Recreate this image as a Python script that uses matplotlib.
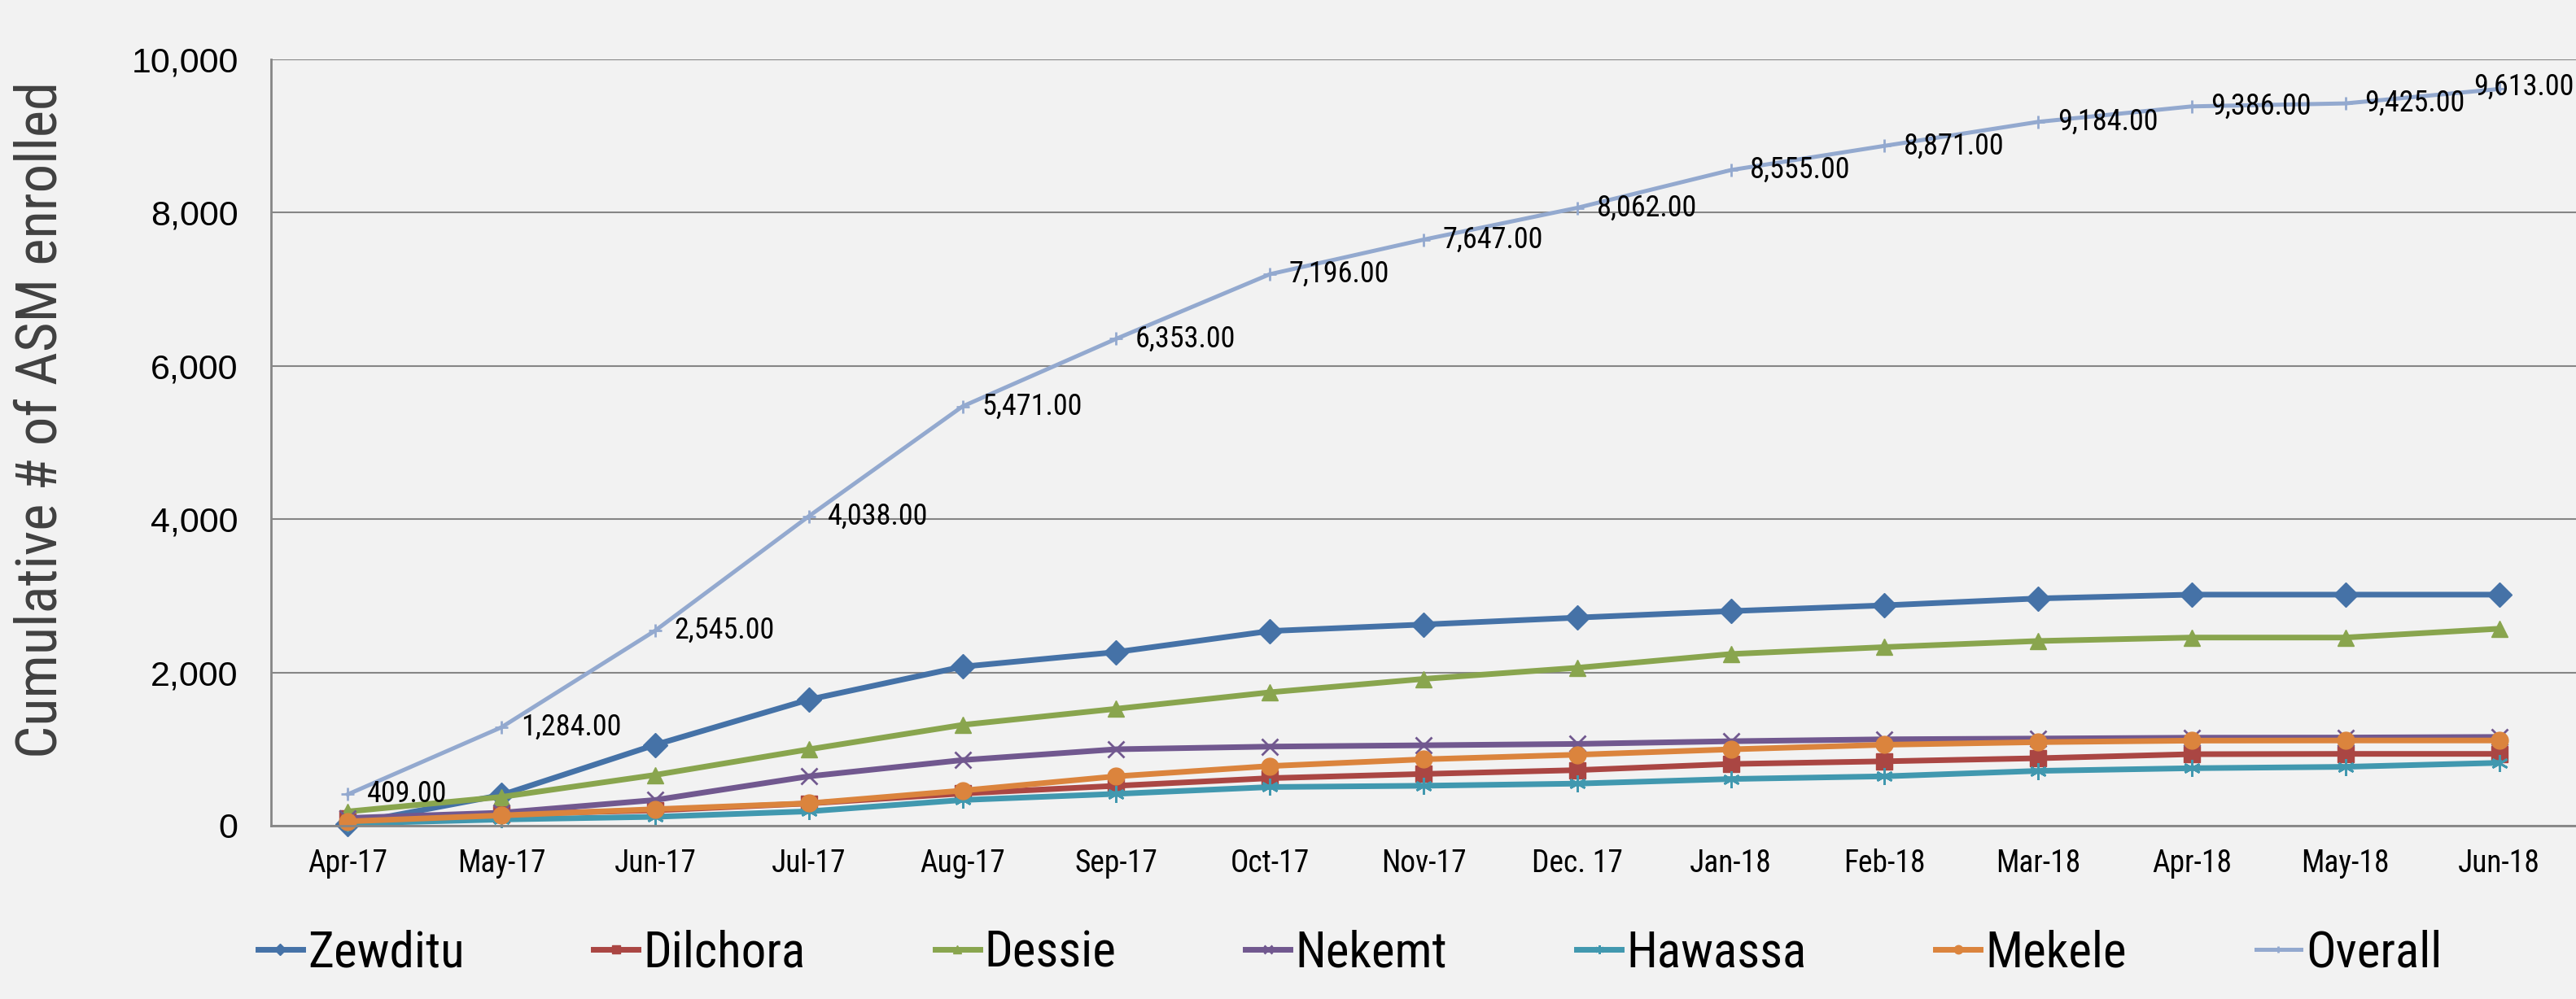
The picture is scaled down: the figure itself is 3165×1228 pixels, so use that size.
import matplotlib.pyplot as plt
from matplotlib import font_manager

months = ['Apr-17', 'May-17', 'Jun-17', 'Jul-17', 'Aug-17', 'Sep-17', 'Oct-17', 'Nov-17',
          'Dec. 17', 'Jan-18', 'Feb-18', 'Mar-18', 'Apr-18', 'May-18', 'Jun-18']

zewditu = [20, 400, 1055, 1645, 2075, 2265, 2540, 2625, 2715, 2800, 2875, 2965, 3015, 3015, 3015]
dilchora = [90, 150, 200, 290, 420, 520, 620, 675, 725, 805, 840, 880, 933, 937, 937]
dessie = [185, 375, 662, 996, 1315, 1525, 1740, 1915, 2060, 2240, 2330, 2410, 2455, 2455, 2570]
nekemt = [100, 169, 335, 644, 856, 997, 1032, 1049, 1067, 1102, 1127, 1137, 1148, 1150, 1158]
hawassa = [28, 81, 116, 187, 335, 415, 504, 521, 549, 609, 644, 715, 750, 768, 820]
mekele = [56, 134, 215, 292, 458, 644, 778, 866, 926, 996, 1056, 1090, 1110, 1112, 1112]
overall = [409, 1284, 2545, 4038, 5471, 6353, 7196, 7647, 8062, 8555, 8871, 9184, 9386, 9425, 9613]

names = ['Zewditu', 'Dilchora', 'Dessie', 'Nekemt', 'Hawassa', 'Mekele', 'Overall']
series = [zewditu, dilchora, dessie, nekemt, hawassa, mekele, overall]
colors = ['#4572A7', '#AA4643', '#89A54E', '#71588F', '#4198AF', '#DB843D', '#93A9CF']
markers = ['D', 's', '^', 'x', (6, 2, 0), 'o', '+']

# pick the narrowest sans face that is installed
avail = {f.name for f in font_manager.fontManager.ttflist}
narrow = 'Liberation Sans'
for cand in ['Liberation Sans Narrow', 'Roboto Condensed', 'Open Sans Condensed',
             'DejaVu Sans Condensed', 'Roboto']:
    if cand in avail:
        narrow = cand
        break

bg = '#F2F2F2'
fig = plt.figure(figsize=(31.65, 12.28), dpi=100, facecolor=bg)
ax = fig.add_axes([0.1052, 0.1735, 0.8948, 0.7671], facecolor=bg)

x = list(range(len(months)))
for vals, name, c, m in zip(series, names, colors, markers):
    lw = 3.6 if name == 'Overall' else 5
    ms = 12 if name == 'Overall' else 15
    mew = 2 if m in ('x', '+') or isinstance(m, tuple) else 1
    ax.plot(x, vals, color=c, lw=lw, marker=m, markersize=ms, markeredgewidth=mew,
            markeredgecolor=c, markerfacecolor=c, label=name, clip_on=False)

# value labels on the overall line; the last one is pushed inside the right edge
last = len(overall) - 1
for i, v in enumerate(overall):
    if i == last:
        ax.annotate(f'{v:,.2f}', (len(months) - 0.5, v), xytext=(-2, 2),
                    textcoords='offset points', ha='right', va='center', fontsize=26,
                    family=narrow, color='black', annotation_clip=False)
    else:
        ax.annotate(f'{v:,.2f}', (i, v), xytext=(17, 0), textcoords='offset points',
                    ha='left', va='center', fontsize=26, family=narrow, color='black',
                    annotation_clip=False)

ax.set_xlim(-0.5, len(months) - 0.5)
ax.set_ylim(0, 10000)
ax.set_yticks(range(0, 10001, 2000))
ax.set_yticklabels([f'{t:,}' for t in range(0, 10001, 2000)], family='Liberation Sans',
                   fontsize=31)
ax.set_xticks(x)
ax.set_xticklabels(months, family=narrow, fontsize=27)
ax.tick_params(axis='y', length=0, pad=29)
ax.tick_params(axis='x', length=0, pad=20)
ax.grid(axis='y', color='#868686', lw=1.5)
ax.set_axisbelow(True)
for s in ('top', 'right'):
    ax.spines[s].set_visible(False)
for s in ('left', 'bottom'):
    ax.spines[s].set_color('#868686')
    ax.spines[s].set_linewidth(2)

fig.text(0.0158, 0.58, 'Cumulative # of ASM enrolled', rotation=90, ha='center',
         va='center', family=narrow, fontsize=51, color='#404040')

fig.legend(loc='center', bbox_to_anchor=(0.524, 0.046), ncol=7, frameon=False,
           prop={'family': narrow, 'size': 44}, handlelength=0.9, handletextpad=0.1,
           columnspacing=2.6, markerscale=0.5)

fig.savefig('out.png', dpi=100, facecolor=bg)
